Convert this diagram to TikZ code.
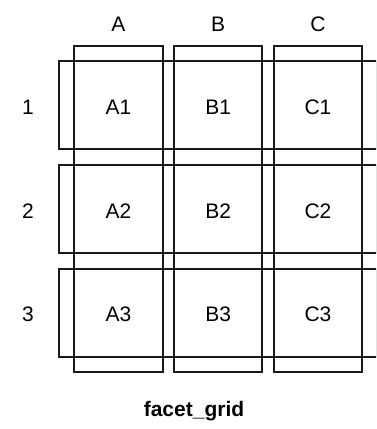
\documentclass[tikz,border=0pt]{standalone}
\usepackage{fontspec}
\setmainfont{Liberation Sans}
\usetikzlibrary{positioning}

\begin{document}
\begin{tikzpicture}[x=1pt, y=-1pt,
    strip/.style={draw=black!90, line width=2pt, inner sep=0, outer sep=0},
    colbox/.style={strip, minimum width=88.4pt, minimum height=326.6pt},
    rowbox/.style={strip, minimum width=318pt, minimum height=88.3pt},
    lab/.style={font=\fontsize{21}{24}\selectfont, text=black, inner sep=0, yshift=-2pt}]
    \useasboundingbox (0,0) rectangle (376,429);
    \clip (0,0) rectangle (376,429);

    % column strips
    \node[colbox] (colA) at (118.5, 209) {};
    \node[colbox] (colB) at (218.2, 209) {};
    \node[colbox] (colC) at (318, 209) {};

    % row strips
    \node[rowbox] (row1) at (218, 104.8) {};
    \node[rowbox] (row2) at (218, 208.9) {};
    \node[rowbox] (row3) at (218, 312.7) {};

    % headers
    \node[lab, above=16pt of colA] (hA) {A};
    \node[lab, above=16pt of colB] (hB) {B};
    \node[lab, above=16pt of colC] (hC) {C};
    \node[lab, left=25pt of row1] (h1) {1};
    \node[lab, left=25pt of row2] (h2) {2};
    \node[lab, left=25pt of row3] (h3) {3};

    % panels
    \node[lab] (A1) at (colA |- row1) {A1};
    \node[lab] (B1) at (colB |- row1) {B1};
    \node[lab] (C1) at (colC |- row1) {C1};
    \node[lab] (A2) at (colA |- row2) {A2};
    \node[lab] (B2) at (colB |- row2) {B2};
    \node[lab] (C2) at (colC |- row2) {C2};
    \node[lab] (A3) at (colA |- row3) {A3};
    \node[lab] (B3) at (colB |- row3) {B3};
    \node[lab] (C3) at (colC |- row3) {C3};

    \node[lab, font=\fontsize{21}{24}\selectfont\bfseries, anchor=base, yshift=0pt] (title) at (194, 414) {facet\_grid};
\end{tikzpicture}
\end{document}
